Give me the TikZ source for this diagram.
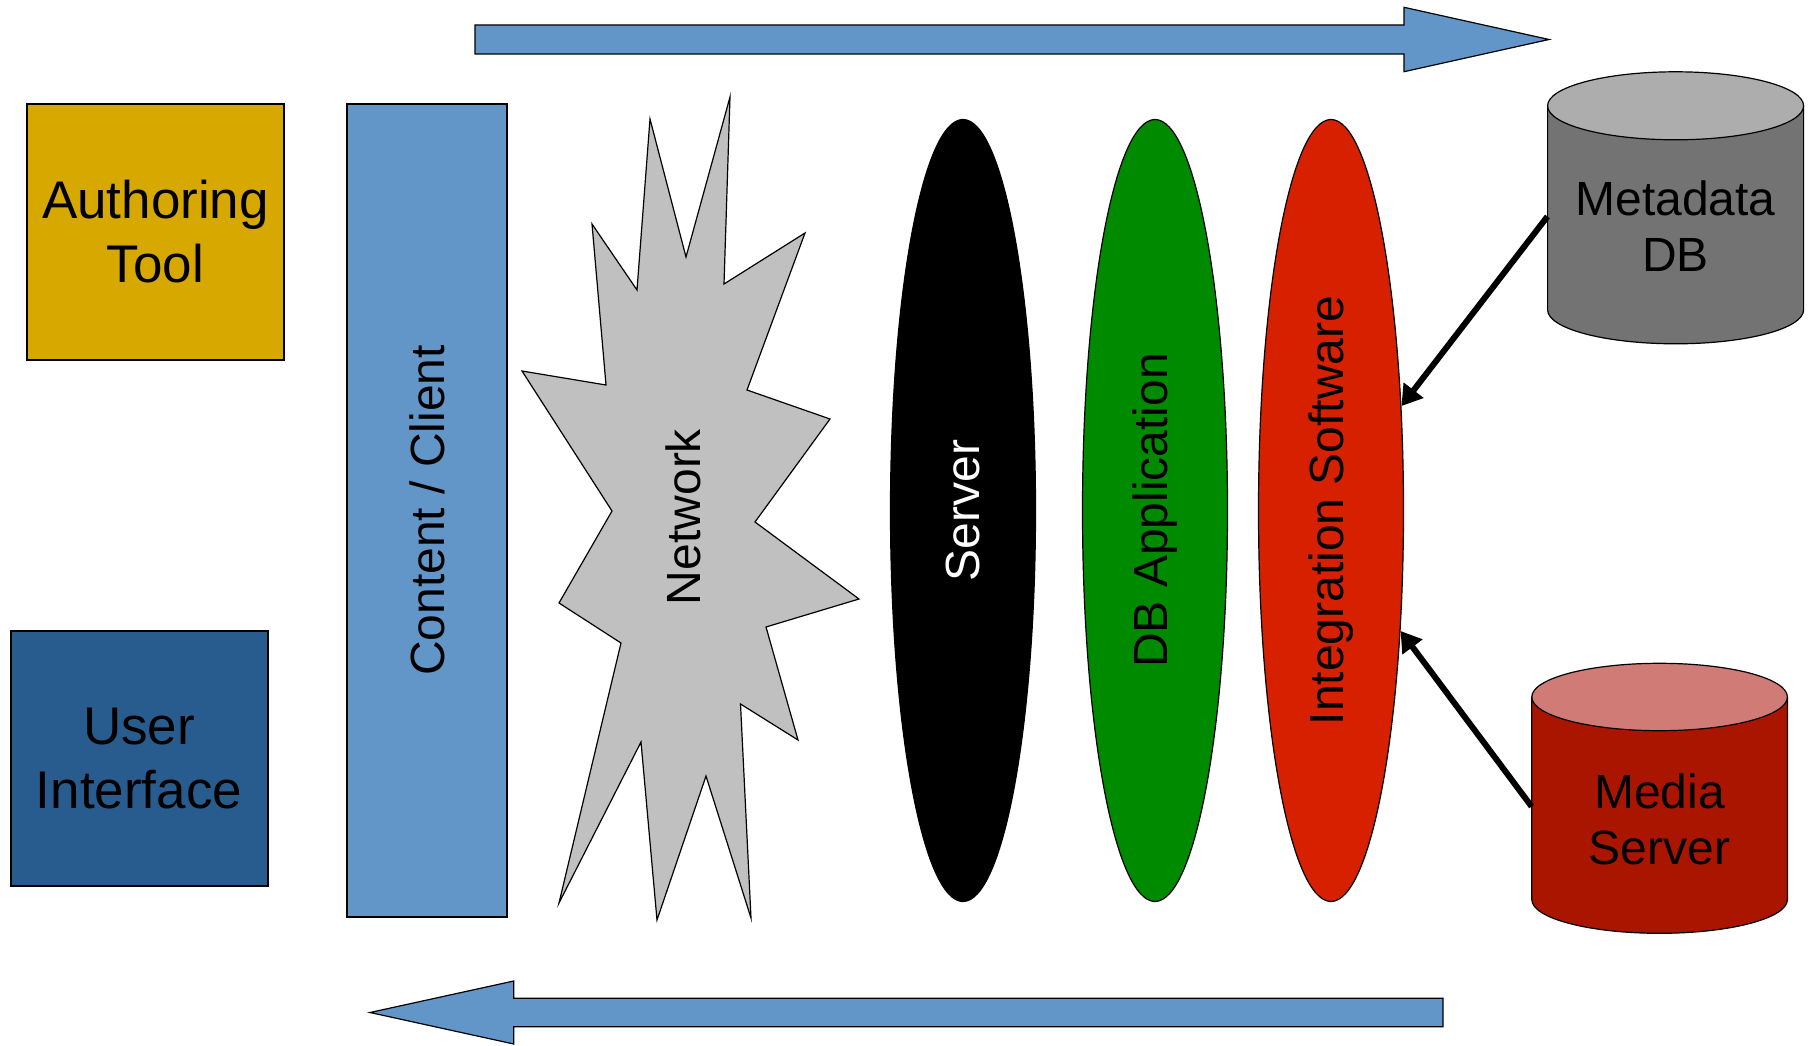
\documentclass[tikz,border=0pt]{standalone}
\usepackage{fontspec}
\setmainfont{Liberation Sans}
\usepackage{graphicx}
\usetikzlibrary{shapes.geometric,arrows.meta}
\definecolor{toolgold}{HTML}{D6A800}
\definecolor{flowblue}{HTML}{6296C8}
\definecolor{uiblue}{HTML}{295C8E}
\definecolor{netgray}{HTML}{C0C0C0}
\definecolor{appgreen}{HTML}{008A00}
\definecolor{integred}{HTML}{D62000}
\definecolor{mdbody}{HTML}{737373}
\definecolor{mdtop}{HTML}{ADADAD}
\definecolor{msbody}{HTML}{AA1500}
\definecolor{mstop}{HTML}{D07B76}
\begin{document}
\begin{tikzpicture}[x=1pt,y=-1pt,
    box/.style={draw, line width=2pt, rectangle, inner sep=0pt},
    layer/.style={draw, line width=1.2pt, ellipse, inner sep=0pt,
        minimum width=145pt, minimum height=782pt},
    bigtext/.style={font=\fontsize{53}{64}\selectfont, align=center},
    midtext/.style={font=\fontsize{48}{56}\selectfont, align=center},
    link/.style={line width=6pt, -{Triangle[length=20pt,width=24pt]}}]
    \useasboundingbox (0,0) rectangle (1813,1046);

    % flow arrows
    \draw[fill=flowblue, line width=1.2pt] (475,25) -- (1404,25) -- (1404,7.3) -- (1549,39.5)
        -- (1404,71.7) -- (1404,54) -- (475,54) -- cycle;
    \draw[fill=flowblue, line width=1.2pt] (1443,998.3) -- (513.7,998.3) -- (513.7,981) -- (370,1012.5)
        -- (513.7,1044) -- (513.7,1026.7) -- (1443,1026.7) -- cycle;

    % left side
    \node[box, fill=toolgold, minimum width=257pt, minimum height=256pt, bigtext] (tool) at (155.5,232) {Authoring\\Tool};
    \node[box, fill=uiblue, minimum width=257pt, minimum height=255pt, bigtext] (ui) at (139,758.5) {User\\Interface};
    \node[box, line width=1.6pt, fill=flowblue, minimum width=160pt, minimum height=813pt, midtext] (client) at (427,510.5)
        {\rotatebox{90}{Content / Client}};

    % network
    \draw[fill=netgray, line width=1.2pt] (522,371) -- (606,385) -- (592,224) -- (637,290) -- (650,119)
        -- (686,257) -- (730,97) -- (724,284) -- (805,233) -- (747,390) -- (830,419) -- (755,522)
        -- (859,599) -- (766,627) -- (798,740) -- (740.5,704) -- (751,918) -- (706,776) -- (657,920)
        -- (641,742) -- (559,903) -- (621,643) -- (559,603) -- (612,511) -- cycle;
    \node[midtext] (net) at (683,517) {\rotatebox{90}{Network}};

    % server side
    \node[layer, fill=black, text=white, midtext] (server) at (963,510.5) {\rotatebox{90}{Server}};
    \node[layer, fill=appgreen, midtext] (dbapp) at (1155,510.5) {\rotatebox{90}{DB Application}};
    \node[layer, fill=integred, midtext] (integ) at (1331,510.5) {\rotatebox{90}{Integration Software}};

    % databases
    \draw[fill=mdbody, line width=1.2pt] (1547.6,105.8) -- (1547.6,309.8)
        arc[start angle=180, end angle=360, x radius=128pt, y radius=34pt] -- (1803.6,105.8) -- cycle;
    \draw[fill=mdtop, line width=1.2pt] (1675.6,105.8) ellipse[x radius=128pt, y radius=34pt];
    \node[midtext, minimum width=256pt] (mdb) at (1675.6,226.5) {Metadata\\DB};

    \draw[fill=msbody, line width=1.2pt] (1531.8,697) -- (1531.8,899.6)
        arc[start angle=180, end angle=360, x radius=127.8pt, y radius=33.7pt] -- (1787.4,697) -- cycle;
    \draw[fill=mstop, line width=1.2pt] (1659.6,697) ellipse[x radius=127.8pt, y radius=33.7pt];
    \node[midtext, minimum width=255.6pt] (ms) at (1659.6,819) {Media\\Server};

    \draw[link] ([yshift=10pt]mdb.west) -- (integ.56);
    \draw[link] ([yshift=12.5pt]ms.west) -- (integ.-60);
\end{tikzpicture}
\end{document}
